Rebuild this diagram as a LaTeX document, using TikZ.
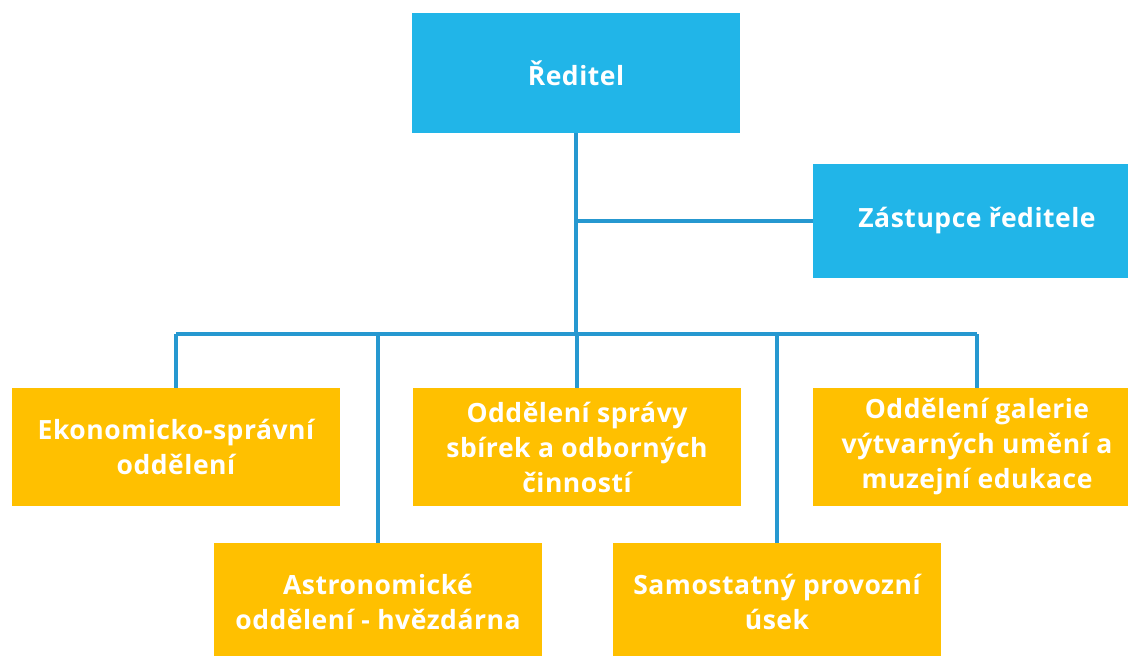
\documentclass[tikz,border=0pt]{standalone}
\usepackage{fontspec}
\setmainfont{Open Sans}
\usepackage{xcolor}

\definecolor{headblue}{RGB}{33,181,232}
\definecolor{deptgold}{RGB}{255,192,0}
\definecolor{linkblue}{RGB}{38,152,208}

\begin{document}
\begin{tikzpicture}[x=1pt, y=-1pt,
    headbox/.style={rectangle, fill=headblue, minimum width=328pt, minimum height=118pt,
      inner sep=0pt, text=white, align=center,
      font=\fontsize{26.5}{35}\selectfont\bfseries\addfontfeature{LetterSpace=2}},
    deptbox/.style={headbox, fill=deptgold},
    link/.style={draw=linkblue, line width=3.5pt}]
    % (pixel units, y runs down)

    \clip (0,0) rectangle (1128,656);

    % Management
    \node[headbox, minimum height=120pt] (reditel) at (576,73) {Ředitel};
    \node[headbox, minimum height=114pt] (zastupce) at (977,221) {Zástupce ředitele};

    % Departments: name/x/y/text
    \foreach \name/\x/\y/\txt in {
      ekon/176/447/{Ekonomicko-správní\\oddělení},
      sprava/577/447/{Oddělení správy\\sbírek a odborných\\činností},
      galerie/977/447/{Oddělení galerie\\výtvarných umění a\\muzejní edukace},
      astro/378/602/{Astronomické\\oddělení - hvězdárna},
      provoz/777/602/{Samostatný provozní\\úsek}}
    {
      \node[deptbox] (\name) at (\x,\y) {\txt};
    }

    % Bus line under the director
    \coordinate (bus) at (577,334);

    % Connectors
    \draw[link] (reditel.south) -- (reditel.south |- bus);
    \draw[link] (zastupce.west -| reditel.south) -- (zastupce.west);
    \draw[link] (ekon.north |- bus) -- (galerie.north |- bus);
    \foreach \name in {ekon,astro,sprava,provoz,galerie} {
      \draw[link] (\name.north |- bus) -- (\name.north);
    }
\end{tikzpicture}
\end{document}
